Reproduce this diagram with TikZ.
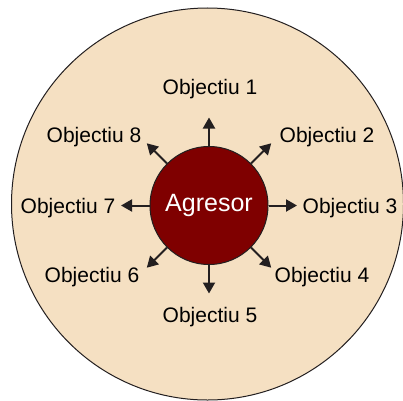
\documentclass[tikz,border=0pt]{standalone}
\usepackage{fontspec}
\setmainfont{Liberation Sans}
\usetikzlibrary{arrows.meta}
\definecolor{sand}{HTML}{F5E0C2}
\definecolor{blood}{HTML}{7F0000}
\definecolor{ink}{HTML}{231F20}

\begin{document}
\begin{tikzpicture}[
    x=1pt, y=1pt,
    target/.style={font=\fontsize{21}{24}\selectfont, inner sep=0pt},
    core/.style={circle, draw=ink, fill=blood, minimum size=118pt, inner sep=0pt, line width=1pt, text=white, font=\fontsize{25}{28}\selectfont},
    arrow/.style={-{Triangle[length=11pt,width=12pt]}, line width=2pt, draw=ink}
]
\useasboundingbox (0,0) rectangle (403,400);
\clip (0,0) rectangle (403,400);
\draw[ink, line width=1pt, fill=sand] (207.5,196) circle (196);

\node[core] (agresor) at (209,194.5) {Agresor};

\node[target] (obj1) at (210,311) {Objectiu 1};
\node[target] (obj2) at (327,263) {Objectiu 2};
\node[target] (obj3) at (350,192) {Objectiu 3};
\node[target] (obj4) at (322,123) {Objectiu 4};
\node[target] (obj5) at (210,83) {Objectiu 5};
\node[target] (obj6) at (92,123) {Objectiu 6};
\node[target] (obj7) at (68,192) {Objectiu 7};
\node[target] (obj8) at (94,263) {Objectiu 8};

\foreach \a/\n in {90/1,45/2,0/3,-45/4,-90/5,-135/6,180/7,135/8} {
    \path (agresor.center) ++(\a:88) coordinate (tip\n);
    \draw[arrow] (agresor.\a) -- (tip\n);
}
\end{tikzpicture}
\end{document}
